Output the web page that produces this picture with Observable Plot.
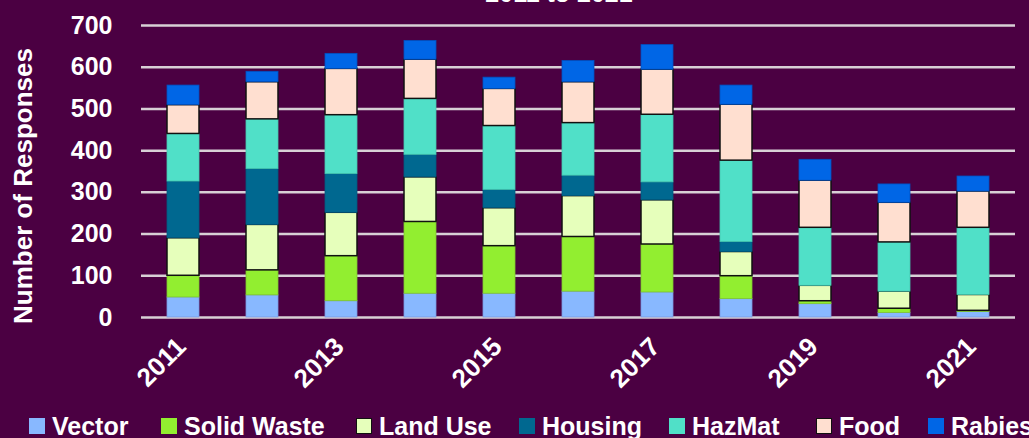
<!DOCTYPE html>
<html>
<head>
<meta charset="utf-8">
<script src="https://cdn.jsdelivr.net/npm/d3@7"></script>
<script src="https://cdn.jsdelivr.net/npm/@observablehq/plot@0.6"></script>
<style>
  html, body { margin: 0; padding: 0; background: #4B0042; }
  #wrap { position: relative; width: 1029px; height: 438px; overflow: hidden; background: #4B0042;
          font-family: "Liberation Sans", Arial, sans-serif; font-weight: bold; color: #fff; }
  #title { position: absolute; left: 0; width: 1118px; text-align: center; top: -22px; font-size: 25px; line-height: 30px; }
  #ytitle { position: absolute; left: 23px; top: 186px; font-size: 26px; white-space: nowrap;
            transform: translate(-50%, -50%) rotate(-90deg); }
  #legend { position: absolute; top: 411px; left: 0; height: 30px; width: 1100px; font-size: 25px; }
  .item { position: absolute; top: 0; display: flex; align-items: center; height: 30px; white-space: nowrap; }
  .sw { width: 16px; height: 16px; box-sizing: border-box; margin-right: 7px; }
  svg { position: absolute; left: 0; top: 0; }
</style>
</head>
<body>
<div id="wrap">
  <div id="title">2011 to 2021</div>
  <div id="ytitle">Number of Responses</div>
  <div id="legend"></div>
</div>
<script>
const years = ["2011","2012","2013","2014","2015","2016","2017","2018","2019","2020","2021"];
const xTickLabels = ["2011","2013","2015","2017","2019","2021"];
const yTicks = [0,100,200,300,400,500,600,700];
const seriesNames = ["Vector","Solid Waste","Land Use","Housing","HazMat","Food","Rabies"];
const vector     = [48, 53, 39, 57, 57, 62, 60, 44, 32, 11, 13];
const solidWaste = [52, 60,108,172,114,131,115, 55,  7, 10,  3];
const landUse    = [90,109,104,107, 91, 98,106, 58, 37, 41, 38];
const housing    = [136,134,93, 54, 44, 49, 43, 24,  0,  0,  0];
const hazMat     = [114,119,141,134,153,126,162,195,139,118,161];
const food       = [69, 89,111, 94, 89, 98,108,134,113, 95, 87];
const rabies     = [47, 25, 36, 45, 27, 51, 59, 46, 50, 44, 36];
const seriesColors = ["#88B8FF","#92EE30","#E6FFBB","#006890","#50E0C8","#FFDFD0","#0066E6"];
const seriesStrokes = ["#7a9ae0","#80c830","#111111","#005a80","#45c8b0","#111111","#0050c0"];

const seriesValues = [vector, solidWaste, landUse, housing, hazMat, food, rabies];
const data = [];
seriesNames.forEach((s, i) => {
  years.forEach((y, j) => data.push({year: y, series: s, value: seriesValues[i][j], idx: i}));
});

const chart = Plot.plot({
  width: 1029,
  height: 410,
  marginLeft: 141,
  marginRight: 14,
  marginTop: 25,
  marginBottom: 93,
  style: { background: "transparent", color: "#fff", fontFamily: "'Liberation Sans', Arial, sans-serif", fontWeight: "bold", fontSize: "25px" },
  x: { domain: years, paddingInner: 0.6, paddingOuter: 0.3, label: null },
  y: { domain: [0, 700], label: null },
  color: { domain: seriesNames, range: seriesColors },
  marks: [
    Plot.gridY(yTicks, { stroke: "#d8d0d6", strokeOpacity: 1, strokeWidth: 2.5 }),
    Plot.barY(data, Plot.stackY({
      x: "year", y: "value", z: "series", fill: "series",
      stroke: d => seriesStrokes[d.idx], strokeWidth: d => (d.idx === 2 || d.idx === 5) ? 1.5 : 0.8,
      order: seriesNames
    })),
    Plot.axisY({ ticks: yTicks, tickSize: 0, tickPadding: 29, fontSize: 25, fontWeight: "bold", label: null }),
    Plot.axisX({ ticks: xTickLabels, tickSize: 0, tickRotate: -45, tickPadding: 25, dx: -2, fontSize: 26, fontWeight: "bold", label: null })
  ]
});
document.getElementById("wrap").prepend(chart);

const legendPos = [29, 161, 356, 519, 669, 816, 928];
const legend = document.getElementById("legend");
seriesNames.forEach((s, i) => {
  const it = document.createElement("div");
  it.className = "item";
  it.style.left = legendPos[i] + "px";
  const sw = document.createElement("div");
  sw.className = "sw";
  sw.style.background = seriesColors[i];
  if (i === 2 || i === 5) sw.style.border = "1.5px solid #111";
  it.appendChild(sw);
  const t = document.createElement("span");
  t.textContent = s;
  it.appendChild(t);
  legend.appendChild(it);
});
</script>
</body>
</html>
